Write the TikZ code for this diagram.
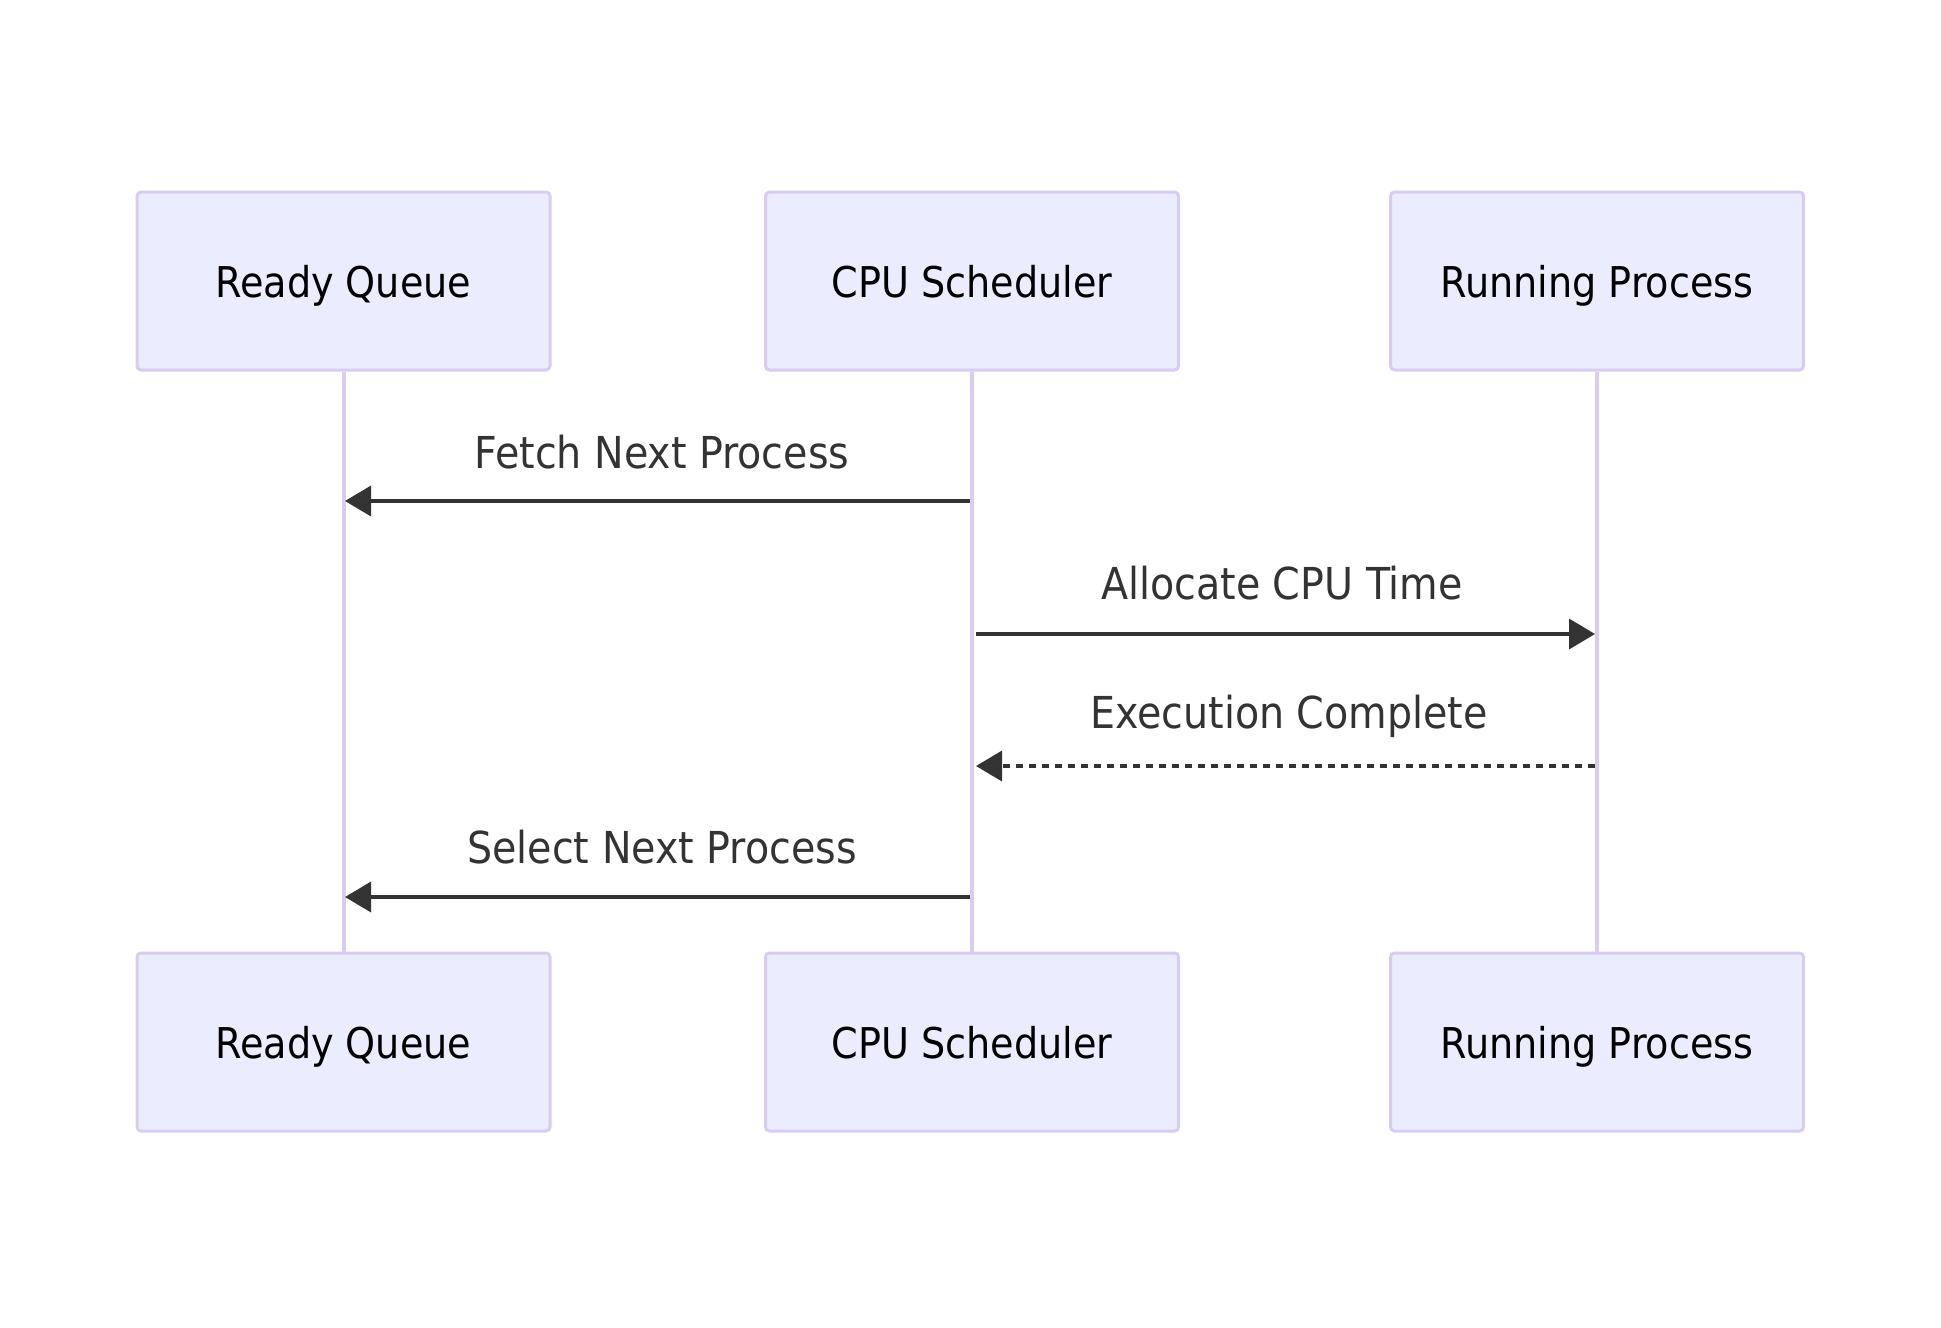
\documentclass[tikz,border=0pt]{standalone}
\usepackage{fontspec}
\setmainfont{DejaVu Sans Condensed}
\usetikzlibrary{arrows.meta}
\usepackage{xcolor}
\definecolor{actorfill}{HTML}{ECECFF}
\definecolor{actorline}{HTML}{D9CCF2}
\definecolor{msgcolor}{HTML}{333333}

\begin{document}
\begin{tikzpicture}[x=0.5pt, y=-0.5pt,
    actor/.style={draw=actorline, fill=actorfill, line width=1.5pt, rounded corners=2pt,
        minimum width=206.5pt, minimum height=89pt, inner sep=0pt,
        text height=18pt, text depth=2pt,
        font=\fontsize{21.2}{25}\selectfont, text=black},
    lifeline/.style={draw=actorline, line width=2pt},
    msg/.style={draw=msgcolor, line width=1.8pt, -{Triangle[length=13pt, width=15pt]}},
    reply/.style={msg, dash pattern=on 3.5pt off 3pt},
    msglabel/.style={font=\fontsize{22}{26}\selectfont, text=msgcolor, inner sep=0pt}]

    \useasboundingbox (0,0) rectangle (1941,1327);

    % actors, top and bottom
    \node[actor] (rqTop) at (343.5, 281) {Ready Queue};
    \node[actor] (csTop) at (972, 281) {CPU Scheduler};
    \node[actor] (rpTop) at (1597, 281) {Running Process};
    \node[actor] (rqBot) at (343.5, 1042) {Ready Queue};
    \node[actor] (csBot) at (972, 1042) {CPU Scheduler};
    \node[actor] (rpBot) at (1597, 1042) {Running Process};

    % lifelines
    \draw[lifeline] (rqTop) -- (rqBot);
    \draw[lifeline] (csTop) -- (csBot);
    \draw[lifeline] (rpTop) -- (rpBot);

    % message points on the lifelines
    \coordinate (rq1) at (345, 501);
    \coordinate (cs1) at (970, 501);
    \coordinate (cs2) at (976, 634);
    \coordinate (rp2) at (1595, 634);
    \coordinate (rp3) at (1595, 766);
    \coordinate (cs3) at (976, 766);
    \coordinate (cs4) at (970, 897);
    \coordinate (rq4) at (345, 897);

    % messages
    \draw[msg] (cs1) -- (rq1);
    \draw[msg] (cs2) -- (rp2);
    \draw[reply] (rp3) -- (cs3);
    \draw[msg] (cs4) -- (rq4);

    \node[msglabel] (l1) at (662, 452) {Fetch Next Process};
    \node[msglabel] (l2) at (1282, 583) {Allocate CPU Time};
    \node[msglabel] (l3) at (1289, 716) {Execution Complete};
    \node[msglabel] (l4) at (662, 847) {Select Next Process};
\end{tikzpicture}
\end{document}
